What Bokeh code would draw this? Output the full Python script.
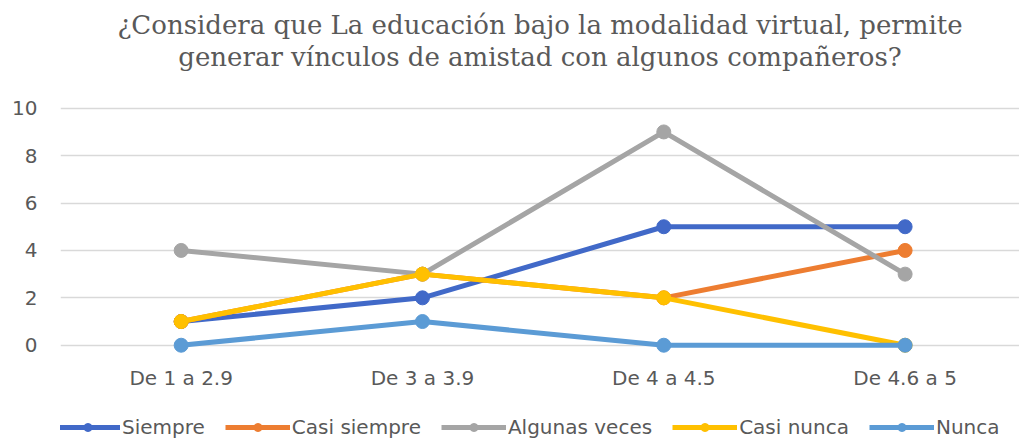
from bokeh.plotting import figure
from bokeh.models import Title, Legend, LegendItem, FixedTicker, Range1d
from bokeh.embed import file_html
from bokeh.resources import INLINE

categories = ["De 1 a 2.9", "De 3 a 3.9", "De 4 a 4.5", "De 4.6 a 5"]
series_names = ["Siempre", "Casi siempre", "Algunas veces", "Casi nunca", "Nunca"]
siempre = [1, 2, 5, 5]
casi_siempre = [1, 3, 2, 4]
algunas_veces = [4, 3, 9, 3]
casi_nunca = [1, 3, 2, 0]
nunca = [0, 1, 0, 0]
y_ticks = [0, 2, 4, 6, 8, 10]
title_lines = ["¿Considera que La educación bajo la modalidad virtual, permite",
               "generar vínculos de amistad con algunos compañeros?"]

colors = ["#4169C8", "#ED7D31", "#A5A5A5", "#FFC000", "#5B9BD5"]
all_series = [siempre, casi_siempre, algunas_veces, casi_nunca, nunca]

TXT = "#595959"
FONT = "DejaVu Sans"

p = figure(width=1019, height=440, output_backend="svg", toolbar_location=None,
           x_range=Range1d(-0.5, 3.474), y_range=Range1d(-4.02, 10.2),
           min_border_left=60, min_border_right=0, min_border_top=103,
           min_border_bottom=0)
p.outline_line_color = None
p.title.text = ""

# blank spacer (a single space, drawn in the background colour) between title and plot
p.add_layout(Title(text=" ", text_font="DejaVu Serif", text_font_size="26px",
                   text_color="#ffffff", standoff=0, offset=0), "above")
for line in reversed(title_lines):
    t = Title(text=line, align="center", text_font="DejaVu Serif",
              text_font_size="26px", text_font_style="normal", text_color=TXT,
              standoff=0, offset=0)
    p.add_layout(t, "above")

xs = list(range(len(categories)))
items = []
for name, vals, col in zip(series_names, all_series, colors):
    r1 = p.line(xs, vals, line_color=col, line_width=5)
    r2 = p.scatter(xs, vals, size=14, fill_color=col, line_color=col)
    items.append(LegendItem(label=name, renderers=[r1, r2]))

legend = Legend(items=items, orientation="horizontal", location=(-5, 1),
                padding=0, margin=0, border_line_color=None,
                background_fill_alpha=0, label_text_font=FONT,
                label_text_font_size="20px", label_text_color=TXT,
                label_height=20, glyph_height=20, glyph_width=65,
                label_standoff=2, spacing=20)
p.add_layout(legend, "center")

p.xaxis.ticker = FixedTicker(ticks=xs)
p.xaxis.major_label_overrides = {i: c for i, c in enumerate(categories)}
p.xaxis.fixed_location = -0.4
p.yaxis.ticker = FixedTicker(ticks=y_ticks)
for ax in (p.xaxis, p.yaxis):
    ax.axis_line_color = None
    ax.major_tick_line_color = None
    ax.minor_tick_line_color = None
    ax.major_tick_out = 0
    ax.major_tick_in = 0
    ax.major_label_text_font = FONT
    ax.major_label_text_font_size = "20px"
    ax.major_label_text_color = TXT
p.xaxis.major_label_standoff = 11
p.yaxis.major_label_standoff = 23

p.xgrid.grid_line_color = None
p.ygrid.grid_line_color = "#D9D9D9"
p.ygrid.grid_line_width = 1.5

open("out.html", "w").write(file_html(p, INLINE))
